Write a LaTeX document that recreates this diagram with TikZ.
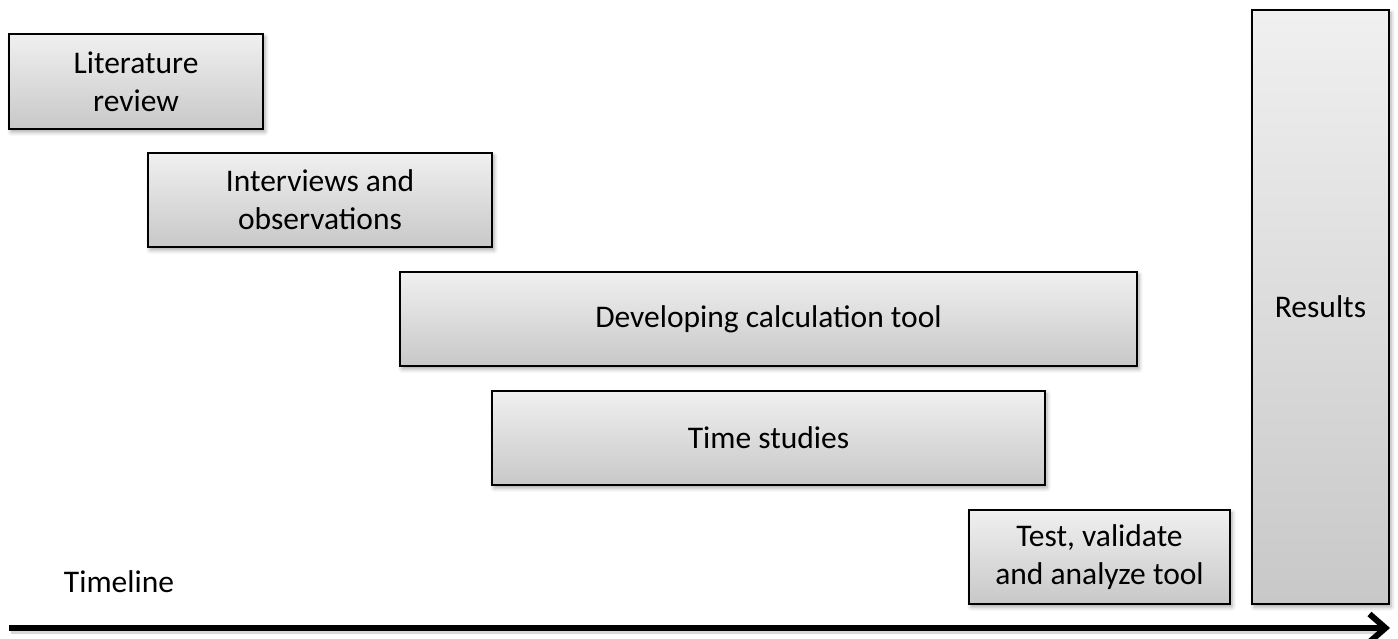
\documentclass[tikz,border=0pt]{standalone}
\usepackage{fontspec}
\setmainfont{Carlito}
\usetikzlibrary{arrows.meta,shadows.blur}
\definecolor{boxtop}{HTML}{F0F0F0}
\definecolor{boxbot}{HTML}{C8C8C8}
\begin{document}
\begin{tikzpicture}[x=1pt,y=1pt,
  phase/.style={draw=black, line width=1.6pt, top color=boxtop, bottom color=boxbot,
    align=center, inner sep=0pt, font=\fontsize{31.5}{38}\selectfont,
    blur shadow={shadow xshift=2pt, shadow yshift=-3pt, shadow blur radius=4pt, shadow opacity=35}},
  lbl/.style={font=\fontsize{31.5}{38}\selectfont}]
\useasboundingbox (0,0) rectangle (1398,639);

% project phases
\node[phase, minimum width=254, minimum height=95] (lit) at (136,557.5) {Literature\\review};
\node[phase, minimum width=344, minimum height=94] (int) at (320,439) {Interviews and\\observations};
\node[phase, minimum width=737, minimum height=94] (dev) at (768.5,320) {Developing calculation tool};
\node[phase, minimum width=553, minimum height=94] (time) at (768.5,201) {Time studies};
\node[phase, minimum width=261, minimum height=94] (test) at (1099.5,82) {Test, validate\\and analyze tool};
\node[phase, minimum width=137, minimum height=594] (res) at (1320.5,332) {Results};

% timeline axis
\node[lbl] (tl) at (119,57) {Timeline};
\coordinate (t0) at (9,11);
\coordinate (t1) at (1390,11);
\draw[line width=6pt, black!30, opacity=0.5] ([shift={(2,-3)}]t0) -- ([shift={(-12,-3)}]t1);
\draw[line width=6pt, -{Straight Barb[length=16pt,width=28pt]}] (t0) -- (t1);
\end{tikzpicture}
\end{document}
